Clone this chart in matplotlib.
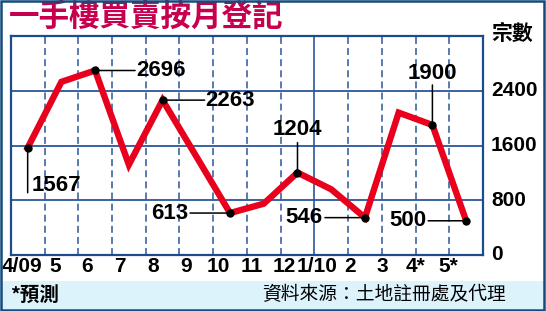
import matplotlib
matplotlib.use("Agg")
import matplotlib.pyplot as plt
from matplotlib.patches import Rectangle
import numpy as np

# ---- data ----
months = ["4/09", "5", "6", "7", "8", "9", "10", "11", "12", "1/10", "2", "3", "4*", "5*"]
values = [1567, 2530, 2696, 1320, 2263, 1440, 613, 750, 1204, 960, 546, 2080, 1900, 500]
labeled = [0, 2, 4, 6, 8, 10, 12, 13]
yticks = [0, 800, 1600, 2400]
title = "一手樓買賣按月登記"
unit = "宗數"
note = "*預測"
source = "資料來源：土地註冊處及代理"

plt.rcParams['lines.scale_dashes'] = False
CJK = ['Noto Sans CJK TC', 'DejaVu Sans']
NUM = ['Liberation Sans', 'DejaVu Sans']
NARROW = ['Liberation Sans Narrow', 'Liberation Sans', 'DejaVu Sans']

W, H = 546, 311
fig = plt.figure(figsize=(W / 100, H / 100), dpi=100)
fig.patch.set_facecolor('white')

def px(x, y):
    return x / W, 1 - y / H

# footer band and outer border
fig.patches.append(Rectangle(px(1, 309), 543 / W, 28 / H, transform=fig.transFigure,
                             facecolor='#ddf3fb', edgecolor='none', zorder=0))
fig.patches.append(Rectangle((0.002, 0.003), 0.995, 0.994, transform=fig.transFigure,
                             facecolor='none', edgecolor='#124b7c', linewidth=1.8, zorder=5))

L, R, T, B = 10.8, 483.0, 36.0, 255.0
ax = fig.add_axes([L / W, 1 - B / H, (R - L) / W, (B - T) / H])
ax.set_xlim(-0.5, len(months) - 0.5)
ax.set_ylim(0, 3200)
ax.set_facecolor('white')

frame_c = '#1d4c8c'
grid_c = '#2a5699'
for s in ax.spines.values():
    s.set_color(frame_c)
    s.set_linewidth(1.6)

for v in yticks[1:]:
    ax.axhline(v, color=grid_c, lw=1.3, zorder=1)
for i in range(len(months) - 1):
    xv = i + 0.5
    if months[i + 1].startswith("1/"):
        ax.axvline(xv, color=grid_c, lw=1.2, zorder=1)
    else:
        ax.axvline(xv, color=grid_c, lw=1.1, linestyle=(0, (5, 3)), zorder=1)

x = np.arange(len(months))
ax.plot(x, values, color='#e8001c', lw=4.6, solid_joinstyle='miter', zorder=3)
ax.plot(x[labeled], np.array(values)[labeled], 'o', color='black', ms=5, zorder=4)

# annotation placement (pixels): (line dx, line dy, text dx, text dy, ha, va)
place = {
    0: (0, -45, 4, -38, 'left', 'center'),
    2: (40, 0, 41, 0, 'left', 'center'),
    4: (42, 0, 43, 0, 'left', 'center'),
    6: (-40, 0, -42, 0, 'right', 'center'),
    8: (0, 30, 0, 33, 'center', 'bottom'),
    10: (-40, 0, -42, 0, 'right', 'center'),
    12: (0, 40, 0, 41, 'center', 'bottom'),
    13: (-38, 0, -40, 0, 'right', 'center'),
}
for i in labeled:
    ldx, ldy, tdx, tdy, ha, va = place[i]
    ax.annotate('', xy=(i, values[i]), xytext=(ldx, ldy), textcoords='offset pixels',
                arrowprops=dict(arrowstyle='-', color='black', lw=1.1,
                                shrinkA=0, shrinkB=0), zorder=4)
    ax.annotate(str(values[i]), xy=(i, values[i]), xytext=(tdx, tdy),
                textcoords='offset pixels', ha=ha, va=va, fontsize=16,
                fontweight='bold', family=NUM, color='black', zorder=5)

ax.set_xticks([])
ax.set_yticks([])

# x labels (slightly compressed spacing as in the original)
for i, m in enumerate(months):
    xp = 22 + 32.77 * i
    fig.text(xp / W, 1 - 266 / H, m, ha='center', va='center', fontsize=15,
             fontweight='bold', family=NARROW, color='black')

# y labels on the right
for v in yticks:
    yp = B - (B - T) * v / 3200
    fig.text(491 / W, 1 - yp / H, str(v), ha='left', va='center', fontsize=15,
             fontweight='bold', family=NARROW, color='black')

fig.text(491 / W, 1 - 33 / H, unit, ha='left', va='center', fontsize=15,
         fontweight='bold', family=CJK, color='black')

fig.text(9 / W, 1 - 17 / H, title, ha='left', va='center', fontsize=22,
         fontweight='bold', family=CJK, color='#c6004e')

fig.text(10 / W, 1 - 295 / H, note, ha='left', va='center', fontsize=14,
         fontweight='bold', family=CJK, color='black')
fig.text(506 / W, 1 - 295 / H, source, ha='right', va='center', fontsize=13.5,
         family=CJK, color='black')

fig.savefig('out.png', dpi=100)
